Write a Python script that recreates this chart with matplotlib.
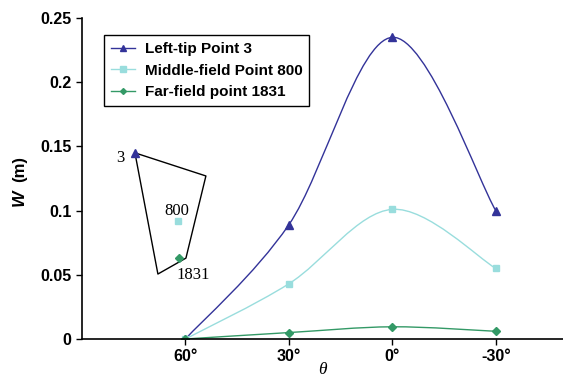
import numpy as np
import matplotlib.pyplot as plt
from matplotlib.path import Path
from matplotlib.patches import PathPatch

# categories (theta) and measured deflections W (m)
thetaLabels = ['60°', '30°', '0°', '-30°']
leftTip = [0.0, 0.089, 0.235, 0.100]
middleField = [0.0, 0.043, 0.101, 0.055]
farField = [0.0, 0.005, 0.0095, 0.006]

# little plan sketch of the domain, in data units of the chart
outlineX = [0.512, 1.198, 1.005, 0.734, 0.512]
outlineY = [0.145, 0.127, 0.063, 0.0506, 0.145]
sketchPts = {'3': (0.512, 0.145), '800': (0.928, 0.092), '1831': (0.937, 0.063)}


def smooth_path(xs, ys):
    # Excel-like smoothed line: cubic bezier through the points
    pts = np.column_stack([xs, ys])
    n = len(pts)
    verts = [pts[0]]
    codes = [Path.MOVETO]
    for i in range(n - 1):
        p0 = pts[max(i - 1, 0)]
        p1 = pts[i]
        p2 = pts[i + 1]
        p3 = pts[min(i + 2, n - 1)]
        c1 = p1 + (p2 - p0) / 6.0
        c2 = p2 - (p3 - p1) / 6.0
        verts += [c1, c2, p2]
        codes += [Path.CURVE4] * 3
    return Path(verts, codes)


plt.rcParams['font.family'] = ['Liberation Sans', 'DejaVu Sans']
plt.rcParams['font.weight'] = 'bold'

fig = plt.figure(figsize=[5.63, 3.78], dpi=100)
ax = fig.add_axes([0.1456, 0.1032, 0.8544, 0.849])

xPos = np.arange(1, len(thetaLabels) + 1)
series = [(leftTip, '#333399', '^', 5.5, 'Left-tip Point 3'),
          (middleField, '#99dddd', 's', 5, 'Middle-field Point 800'),
          (farField, '#339966', 'D', 4, 'Far-field point 1831')]

for vals, col, mk, ms, lab in series:
    ax.add_patch(PathPatch(smooth_path(xPos, vals), facecolor='none',
                           edgecolor=col, lw=1.0))
    ax.plot(xPos, vals, linestyle='none', marker=mk, ms=ms, color=col)
    ax.plot([], [], color=col, marker=mk, ms=ms - 1, lw=1.0, label=lab)

# sketch of the domain
ax.plot(outlineX, outlineY, color='black', lw=1.0)
ax.plot(*sketchPts['3'], marker='^', ms=5.5, color='#333399')
ax.plot(*sketchPts['800'], marker='s', ms=5, color='#99dddd')
ax.plot(*sketchPts['1831'], marker='D', ms=4, color='#339966')
serif = dict(family='Liberation Serif', weight='normal', fontsize=12)
ax.text(0.37, 0.141, '3', ha='center', va='center', **serif)
ax.text(0.92, 0.1, '800', ha='center', va='center', **serif)
ax.text(1.075, 0.05, '1831', ha='center', va='center', **serif)

ax.set_xlim(0, 4.65)
ax.set_ylim(0, 0.25)
ax.set_xticks(xPos)
ax.set_xticklabels(thetaLabels)
ax.set_yticks([0, 0.05, 0.1, 0.15, 0.2, 0.25])
ax.set_yticklabels(['0', '0.05', '0.1', '0.15', '0.2', '0.25'])
ax.tick_params(labelsize=11.5, length=4, width=1)
ax.spines['top'].set_visible(False)
ax.spines['right'].set_visible(False)
ax.spines['left'].set_linewidth(1.2)
ax.spines['bottom'].set_linewidth(1.2)

# y label: italic W, upright (m)
fig.text(0.035, 0.478, 'W', fontsize=12.5, style='italic', weight='bold',
         rotation=90, ha='center', va='center')
fig.text(0.035, 0.552, '(m)', fontsize=12, weight='bold',
         rotation=90, ha='center', va='center')
ax.set_xlabel('θ', fontsize=12.5, style='italic', weight='normal',
              family='Liberation Serif', labelpad=-2)

leg = ax.legend(loc='upper left', bbox_to_anchor=(0.046, 0.947),
                borderaxespad=0, fancybox=False, framealpha=1,
                edgecolor='black', fontsize=11, handlelength=1.6,
                handletextpad=0.6, labelspacing=0.5, borderpad=0.45)
leg.get_frame().set_linewidth(1.0)

fig.savefig('out.png', dpi=100)
